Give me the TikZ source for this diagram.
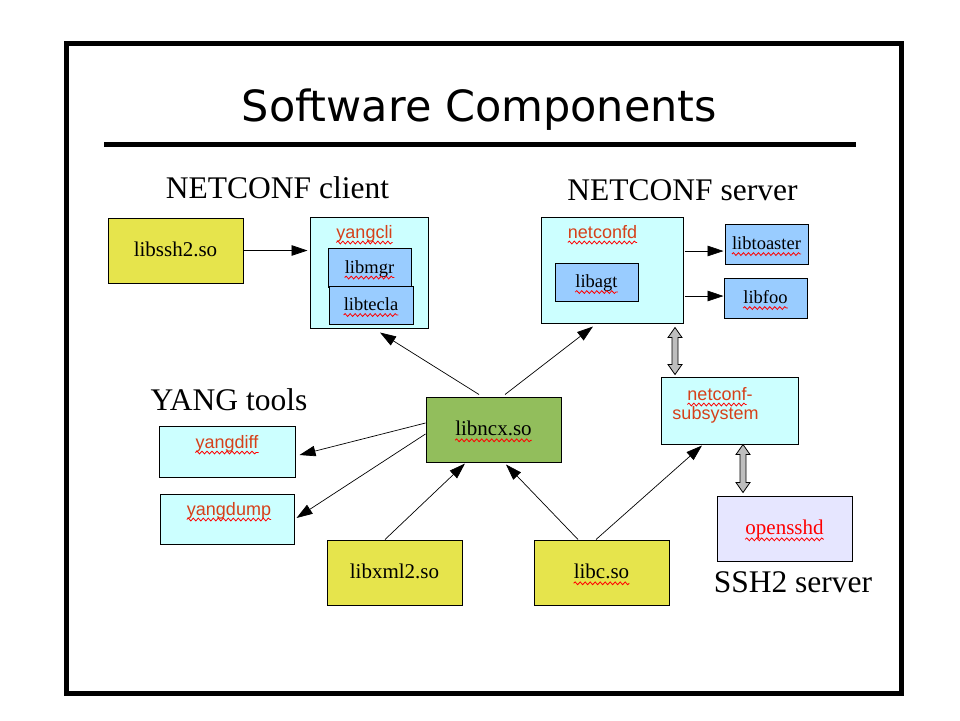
\documentclass[tikz,border=0pt]{standalone}
\usepackage{fontspec}
\setmainfont{Liberation Serif}
\setsansfont{Liberation Sans}
\newfontfamily\titlefont{DejaVu Sans}
\usetikzlibrary{arrows.meta}
\usetikzlibrary{calc}
\usetikzlibrary{positioning}
\usetikzlibrary{decorations.pathmorphing}
\definecolor{libyellow}{RGB}{230,228,76}
\definecolor{libcyan}{RGB}{204,255,255}
\definecolor{libblue}{RGB}{153,204,255}
\definecolor{libgreen}{RGB}{146,190,92}
\definecolor{liblav}{RGB}{230,230,255}
\definecolor{arrowgrey}{RGB}{190,190,190}
\definecolor{toolred}{RGB}{214,64,26}
\tikzset{box/.style = {draw, line width=1pt, inner sep=0pt},
         lib/.style = {box, minimum width=135pt, minimum height=65pt},
         heading/.style = {anchor=base, inner sep=0pt,
                           font=\fontsize{31.5}{36}\selectfont},
         bigtxt/.style = {inner sep=0pt, text height=15.75pt, text depth=3.15pt,
                          font=\fontsize{21}{24}\selectfont},
         smalltxt/.style = {inner sep=0pt, text height=13.9pt, text depth=2.8pt,
                            font=\fontsize{18.5}{22}\selectfont},
         tooltxt/.style = {anchor=base, inner sep=0pt, text=toolred,
                           font=\sffamily\fontsize{18}{21}\selectfont},
         conn/.style = {line width=0.7pt, -{Triangle[length=16pt, width=10.5pt]}},
         squig/.style = {red, line width=0.8pt, decorate,
                         decoration={snake, segment length=5pt, amplitude=1.4pt}},
         greyarr/.style = {fill=arrowgrey, draw, line width=0.8pt}}
% block arrow with a head at both ends, top tip #1, bottom tip #2
\newcommand{\greyarrow}[2]{%
  \filldraw[greyarr] let \p1=(#1), \p2=(#2) in
    (\p1) -- (\x1+7pt,\y1-10pt) -- (\x1+3pt,\y1-10pt) -- (\x1+3pt,\y2+10pt)
    -- (\x1+7pt,\y2+10pt) -- (\p2) -- (\x1-7pt,\y2+10pt) -- (\x1-3pt,\y2+10pt)
    -- (\x1-3pt,\y1-10pt) -- (\x1-7pt,\y1-10pt) -- cycle;}
\begin{document}
\begin{tikzpicture}[x=1pt, y=-1pt]
  \useasboundingbox (0,0) rectangle (960,720);
  \draw[line width=5pt] (66.5,43.5) rectangle (901,693.5);
  \node[anchor=base, inner sep=0pt, font=\titlefont\fontsize{43}{50}\selectfont]
    (title) at (479.5,121.5) {Software Components};
  \draw[line width=5pt] (104,144) -- (856,144);

  \node[heading] (hclient) at (277.5,198) {NETCONF client};
  \node[heading] (hserver) at (682.5,200.5) {NETCONF server};
  \node[heading] (hyang) at (229,410) {YANG tools};
  \node[heading] (hssh) at (793,592) {SSH2 server};

  % client side
  \node[lib, fill=libyellow] (ssh) at (175.5,250.5) {};
  \node[bigtxt] (sshtxt) at (ssh) {libssh2.so};
  \node[box, fill=libcyan, minimum width=118pt, minimum height=111pt] (cli) at (369,272.5) {};
  \node[tooltxt] (clitxt) at (364.5,238) {yangcli};
  \node[box, fill=libblue, minimum width=83pt, minimum height=39pt] (mgr) at (369.5,267.5) {};
  \node[smalltxt] (mgrtxt) at (mgr) {libmgr};
  \node[box, fill=libblue, minimum width=84pt, minimum height=38pt] (tecla) at (371,305) {};
  \node[smalltxt] (teclatxt) at (tecla) {libtecla};

  % server side
  \node[box, fill=libcyan, minimum width=142pt, minimum height=106pt] (nd) at (612,270) {};
  \node[tooltxt] (ndtxt) at (602.5,238) {netconfd};
  \node[box, fill=libblue, minimum width=83pt, minimum height=38pt] (agt) at (596.5,282) {};
  \node[smalltxt] (agttxt) at (agt) {libagt};
  \node[box, fill=libblue, minimum width=83pt, minimum height=40pt] (toaster) at (766.5,244) {};
  \node[smalltxt] (toastertxt) at (toaster) {libtoaster};
  \node[box, fill=libblue, minimum width=83pt, minimum height=40pt] (foo) at (765.5,298) {};
  \node[smalltxt] (footxt) at (foo) {libfoo};
  \node[box, fill=libcyan, minimum width=137pt, minimum height=67pt] (sub) at (729.5,410.5) {};
  \node[tooltxt] (subtxta) at (720,400) {netconf-};
  \node[tooltxt] (subtxtb) at (715.5,419) {subsystem};
  \node[lib, fill=liblav] (sshd) at (784.5,528.5) {};
  \node[bigtxt, text=red] (sshdtxt) at (sshd) {opensshd};

  % libraries and tools
  \node[lib, fill=libgreen] (ncx) at (493.5,429.5) {};
  \node[bigtxt] (ncxtxt) at (ncx) {libncx.so};
  \node[box, fill=libcyan, minimum width=136pt, minimum height=51pt] (diff) at (227,451.5) {};
  \node[tooltxt] (difftxt) at (227,448) {yangdiff};
  \node[box, fill=libcyan, minimum width=134pt, minimum height=50pt] (dump) at (227,519) {};
  \node[tooltxt] (dumptxt) at (229,515) {yangdump};
  \node[lib, fill=libyellow] (xml) at (394.5,572.5) {};
  \node[bigtxt] (xmltxt) at (xml) {libxml2.so};
  \node[lib, fill=libyellow] (libc) at (601.5,572.5) {};
  \node[bigtxt] (libctxt) at (libc) {libc.so};

  % spelling marks
  \foreach \t in {clitxt, mgrtxt, teclatxt, ndtxt, agttxt, toastertxt, footxt,
                  sshdtxt, ncxtxt, difftxt, dumptxt, libctxt}
    \draw[squig] ([yshift=-4.5pt]\t.base west) -- ([yshift=-4.5pt]\t.base east);
  \draw[squig] ([yshift=-4.5pt]subtxta.base west) -- ([xshift=-6pt,yshift=-4.5pt]subtxta.base east);

  % connectors
  \draw[conn, shorten >=2pt] (ssh.east) -- (ssh.east -| cli.west);
  \coordinate (ndout1) at ([xshift=1pt,yshift=19pt]nd.east);
  \coordinate (ndout2) at ([xshift=1pt,yshift=-26pt]nd.east);
  \draw[conn, shorten >=1pt] (ndout1) -- (ndout1 -| toaster.west);
  \draw[conn] (ndout2) -- (ndout2 -| foo.west);
  \draw[conn] ([xshift=-14.5pt,yshift=2pt]ncx.north) -- ([xshift=11pt,yshift=-4pt]cli.south);
  \draw[conn] ([xshift=11.5pt,yshift=2pt]ncx.north) -- ([xshift=-19pt,yshift=-3pt]nd.south);
  \draw[conn] ([yshift=6.5pt]ncx.west) -- ([xshift=4pt,yshift=-3.5pt]diff.east);
  \draw[conn] ([yshift=-4.5pt]ncx.west) -- ([xshift=2pt,yshift=1pt]dump.east);
  \draw[conn] ([xshift=-9.5pt]xml.north) -- ([xshift=-28.5pt,yshift=-1pt]ncx.south);
  \draw[conn] ([xshift=-23.5pt]libc.north) -- ([xshift=12.5pt,yshift=-2pt]ncx.south);
  \draw[conn] ([xshift=-5.5pt]libc.north) -- ([xshift=-27.5pt,yshift=-1pt]sub.south);

  \coordinate (g1a) at ([xshift=63pt,yshift=-4pt]nd.south);
  \coordinate (g1b) at ([xshift=-54.5pt,yshift=2pt]sub.north);
  \coordinate (g2a) at ([xshift=13.5pt]sub.south);
  \coordinate (g2b) at ([xshift=-41.5pt,yshift=3pt]sshd.north);
  \greyarrow{g1a}{g1b}
  \greyarrow{g2a}{g2b}
\end{tikzpicture}
\end{document}
